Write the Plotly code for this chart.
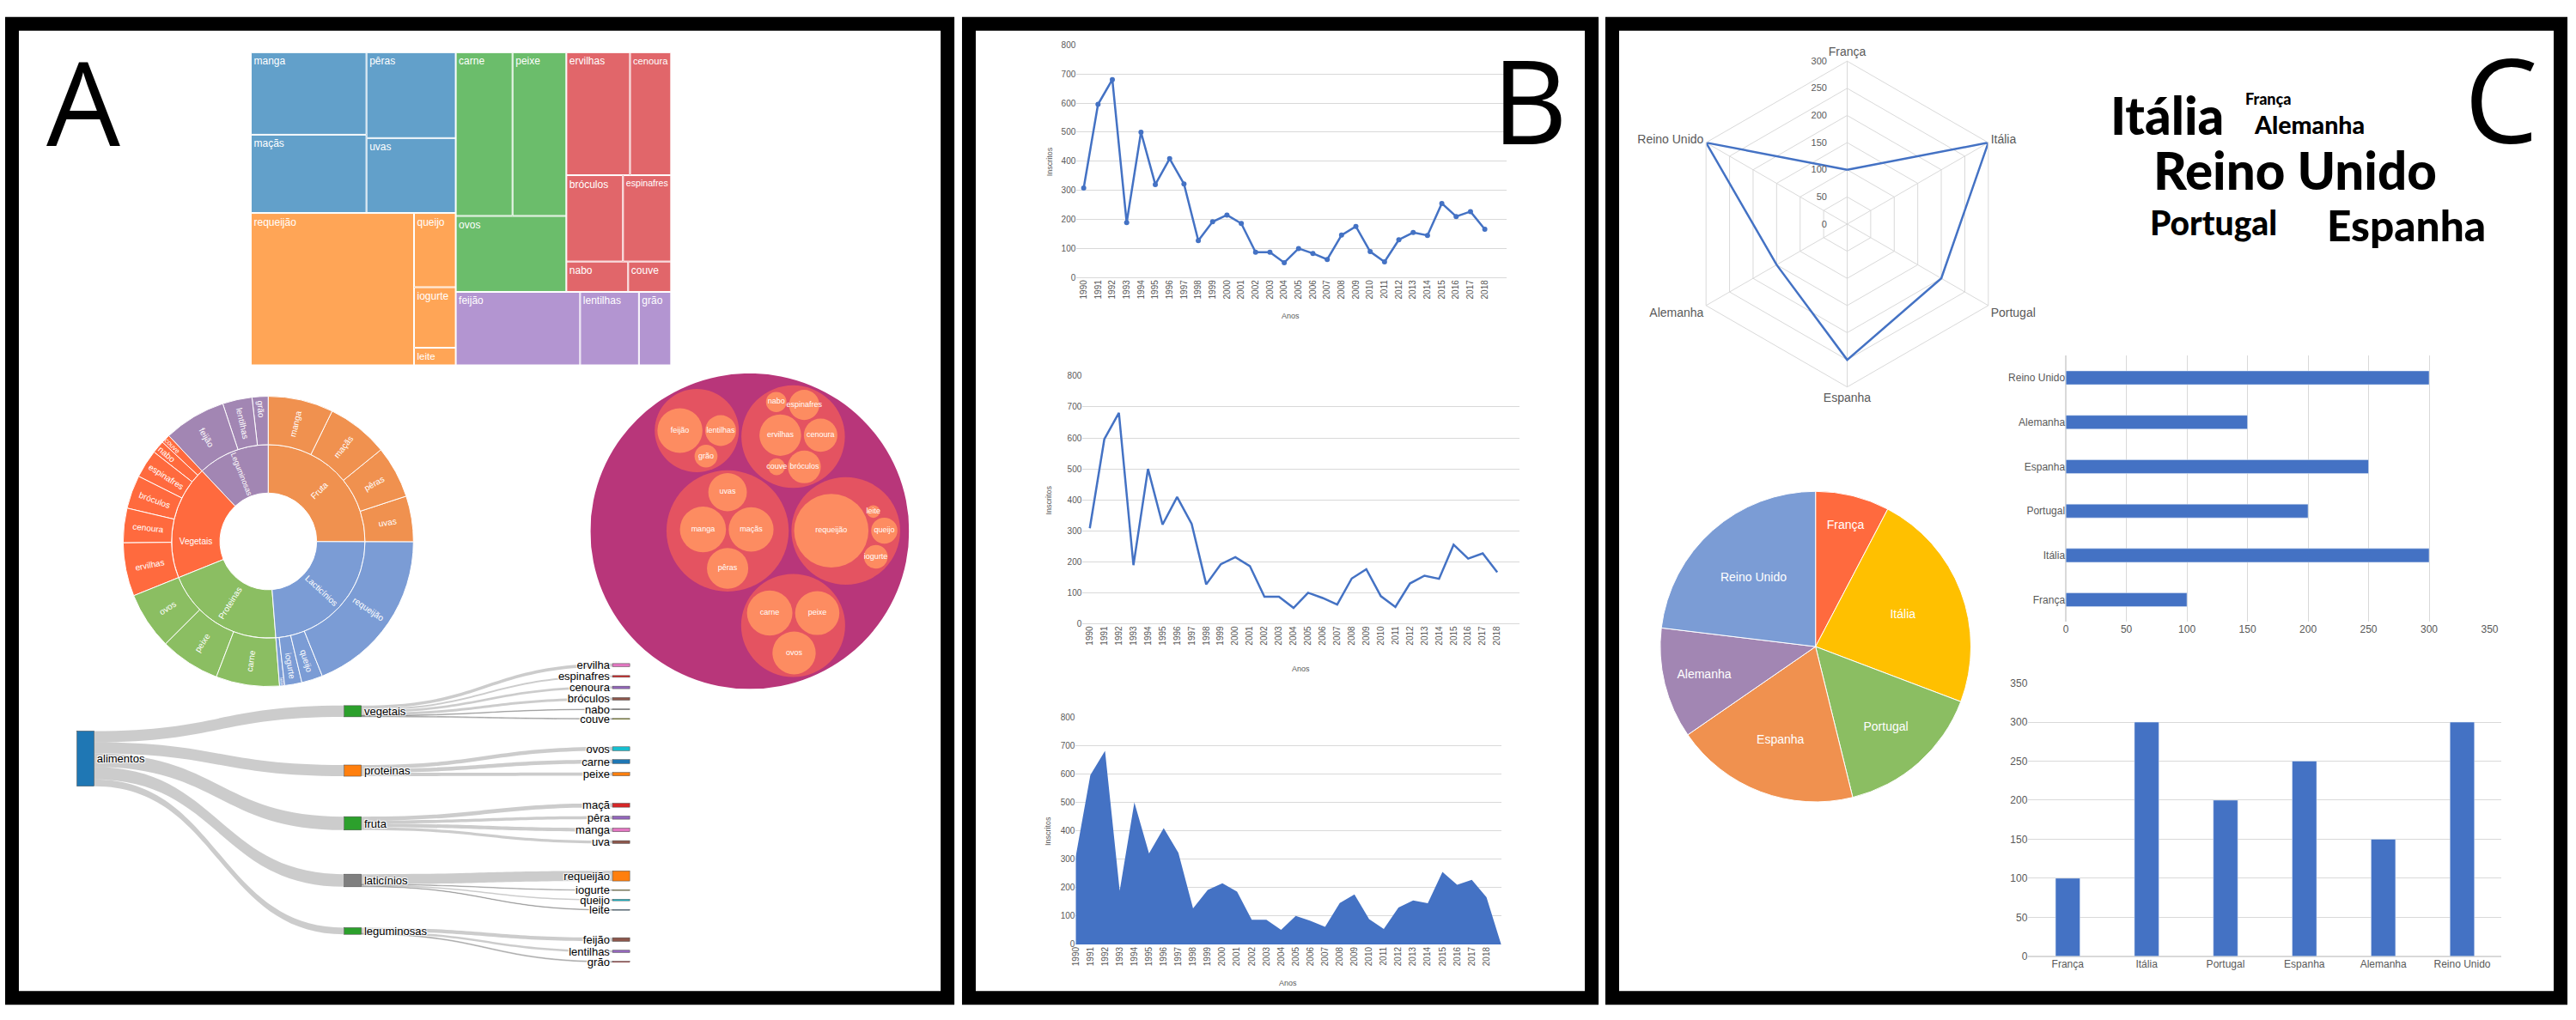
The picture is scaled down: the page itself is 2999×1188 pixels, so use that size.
import math
import plotly.graph_objects as go

W, H = 2999, 1188

# ---------------- dados ----------------
# painel A: alimentos (treemap, sunburst e circle packing)
grupos = ["Fruta", "Lacticínios", "Proteinas", "Vegetais", "Leguminosas"]
fruta = ["manga", "maçãs", "pêras", "uvas"]
fruta_val = [11.7, 11.1, 9.4, 8.2]
lacticinios = ["requeijão", "queijo", "iogurte", "leite"]
lacticinios_val = [30.5, 3.8, 3.1, 0.9]
proteinas = ["carne", "peixe", "ovos"]
proteinas_val = [11.4, 10.8, 10.3]
vegetais = ["ervilhas", "cenoura", "bróculos", "espinafres", "nabo", "couve"]
vegetais_val = [9.6, 6.2, 6.0, 5.1, 2.3, 1.6]
leguminosas = ["feijão", "lentilhas", "grão"]
leguminosas_val = [11.2, 5.3, 2.9]

filhos = [fruta, lacticinios, proteinas, vegetais, leguminosas]
filhos_val = [fruta_val, lacticinios_val, proteinas_val, vegetais_val, leguminosas_val]

# painel A: sankey
sk_raiz = "alimentos"
sk_grupos = ["vegetais", "proteinas", "fruta", "laticínios", "leguminosas"]
sk_vegetais = ["ervilha", "espinafres", "cenoura", "bróculos", "nabo", "couve"]
sk_vegetais_val = [11, 6, 9, 9, 2, 3]
sk_proteinas = ["ovos", "carne", "peixe"]
sk_proteinas_val = [14, 14, 12]
sk_fruta = ["maçã", "pêra", "manga", "uva"]
sk_fruta_val = [14, 11, 13, 10]
sk_laticinios = ["requeijão", "iogurte", "queijo", "leite"]
sk_laticinios_val = [36, 2, 5, 2]
sk_leguminosas = ["feijão", "lentilhas", "grão"]
sk_leguminosas_val = [13, 8, 3]

# painel B: inscritos por ano
anos = list(range(1990, 2019))
inscritos = [308, 596, 681, 189, 500, 320, 409, 322, 127, 192, 215, 186, 87, 87,
             51, 100, 83, 62, 146, 176, 89, 54, 130, 155, 145, 255, 210, 227, 166]
# o grafico de area tem mais uma categoria vazia no fim (cai para zero)
anos_area = anos + [2019]
inscritos_area = inscritos + [0]

# painel C: paises
paises = ["França", "Itália", "Portugal", "Espanha", "Alemanha", "Reino Unido"]
valores = [100, 300, 200, 250, 150, 300]

# ---------------- estilos ----------------
AZUL = "#4472C4"
CINZA = "#595959"
GRID = "#D9D9D9"
FONTE = "Liberation Sans"
TREEMAP_CORES = ["#62A0CA", "#FFA556", "#6BBD6B", "#E1666A", "#B395D1"]
SUNBURST_CORES = ["#F0914F", "#7B9CD5", "#8BBE62", "#FF6A3E", "#A286B3"]
PIE_CORES = ["#FF6A3E", "#FFC000", "#8BBE62", "#F0914F", "#A286B3", "#7B9CD5"]
PACK_CORES = ["#B8367A", "#E45361", "#FD8C61"]
SK_CORES = ["#1f77b4",
            "#2ca02c", "#ff7f0e", "#2ca02c", "#7f7f7f", "#2ca02c",
            "#e377c2", "#d62728", "#9467bd", "#8c564b", "#7f7f7f", "#bcbd22",
            "#17becf", "#1f77b4", "#ff7f0e",
            "#d62728", "#9467bd", "#e377c2", "#8c564b",
            "#ff7f0e", "#bcbd22", "#17becf", "#1f77b4",
            "#8c564b", "#9467bd", "#d62728"]


def px_x(a, b):
    return [a / W, b / W]


def px_y(top, bottom):
    return [1 - bottom / H, 1 - top / H]


fig = go.Figure()

# ---------------- treemap ----------------
tm_labels, tm_parents, tm_values, tm_text, tm_cores = [], [], [], [], []
for g, kids, vals, cor in zip(grupos, filhos, filhos_val, TREEMAP_CORES):
    tm_labels.append(g); tm_parents.append(""); tm_values.append(0)
    tm_text.append(""); tm_cores.append(cor)
    for k, v in zip(kids, vals):
        tm_labels.append(k); tm_parents.append(g); tm_values.append(v)
        tm_text.append(k); tm_cores.append(cor)

fig.add_trace(go.Treemap(
    labels=tm_labels, parents=tm_parents, values=tm_values, text=tm_text,
    textinfo="text", textposition="top left", sort=True,
    marker=dict(colors=tm_cores, line=dict(color="white", width=1),
                pad=dict(t=0, l=0, r=0, b=0)),
    tiling=dict(packing="squarify", squarifyratio=1.618034, pad=1),
    pathbar=dict(visible=False),
    textfont=dict(color="white", size=12, family=FONTE),
    domain=dict(x=px_x(288, 779), y=px_y(55, 423)), hoverinfo="skip"))

# ---------------- sunburst ----------------
# o plotly desenha no sentido anti-horario: passa-se a ordem invertida
sb_ids, sb_labels, sb_parents, sb_values, sb_cores = ["raiz"], [""], [""], [0], ["white"]
for g, kids, vals, cor in list(zip(grupos, filhos, filhos_val, SUNBURST_CORES))[::-1]:
    sb_ids.append(g); sb_labels.append(g); sb_parents.append("raiz")
    sb_values.append(0); sb_cores.append(cor)
    for k, v in list(zip(kids, vals))[::-1]:
        sb_ids.append(g + "/" + k); sb_labels.append(k); sb_parents.append(g)
        sb_values.append(v); sb_cores.append(cor)

fig.add_trace(go.Sunburst(
    ids=sb_ids, labels=sb_labels, parents=sb_parents, values=sb_values, sort=False,
    rotation=90, marker=dict(colors=sb_cores, line=dict(color="white", width=1)),
    leaf=dict(opacity=1), insidetextorientation="radial",
    textfont=dict(color="white", size=10, family=FONTE),
    domain=dict(x=px_x(137, 479), y=px_y(460, 802)), hoverinfo="skip"))


# ---------------- circle packing (d3.packSiblings) ----------------
class No:
    def __init__(self, c):
        self.c = c
        self.next = None
        self.prev = None


def colocar(b, a, c):
    dx, dy = b["x"] - a["x"], b["y"] - a["y"]
    d2 = dx * dx + dy * dy
    if d2:
        a2 = (a["r"] + c["r"]) ** 2
        b2 = (b["r"] + c["r"]) ** 2
        if a2 > b2:
            x = (d2 + b2 - a2) / (2 * d2)
            y = math.sqrt(max(0, b2 / d2 - x * x))
            c["x"] = b["x"] - x * dx - y * dy
            c["y"] = b["y"] - x * dy + y * dx
        else:
            x = (d2 + a2 - b2) / (2 * d2)
            y = math.sqrt(max(0, a2 / d2 - x * x))
            c["x"] = a["x"] + x * dx - y * dy
            c["y"] = a["y"] + x * dy + y * dx
    else:
        c["x"] = a["x"] + c["r"]
        c["y"] = a["y"]


def intersecta(a, b):
    dr = a["r"] + b["r"] - 1e-6
    dx, dy = b["x"] - a["x"], b["y"] - a["y"]
    return dr > 0 and dr * dr > dx * dx + dy * dy


def score(no):
    a, b = no.c, no.next.c
    ab = a["r"] + b["r"]
    dx = (a["x"] * b["r"] + b["x"] * a["r"]) / ab
    dy = (a["y"] * b["r"] + b["y"] * a["r"]) / ab
    return dx * dx + dy * dy


def envolver(cs):
    cx = sum(c["x"] for c in cs) / len(cs)
    cy = sum(c["y"] for c in cs) / len(cs)
    for it in range(1, 20000):
        f = max(cs, key=lambda c: math.hypot(c["x"] - cx, c["y"] - cy) + c["r"])
        dx, dy = f["x"] - cx, f["y"] - cy
        d = math.hypot(dx, dy) or 1e-9
        cx += (f["x"] + dx / d * f["r"] - cx) / (it + 1)
        cy += (f["y"] + dy / d * f["r"] - cy) / (it + 1)
    return cx, cy, max(math.hypot(c["x"] - cx, c["y"] - cy) + c["r"] for c in cs)


def empacotar(cs):
    n = len(cs)
    a = cs[0]; a["x"] = 0.0; a["y"] = 0.0
    if n == 1:
        return a["r"]
    b = cs[1]; a["x"] = -b["r"]; b["x"] = a["r"]; b["y"] = 0.0
    if n == 2:
        return a["r"] + b["r"]
    colocar(b, a, cs[2])
    A, B, C = No(a), No(b), No(cs[2])
    A.next = C.prev = B
    B.next = A.prev = C
    C.next = B.prev = A
    na, nb = A, B
    i = 3
    while i < n:
        c = cs[i]
        colocar(na.c, nb.c, c)
        nc = No(c)
        j, k, sj, sk = nb.next, na.prev, nb.c["r"], na.c["r"]
        recomeca = False
        while True:
            if sj <= sk:
                if intersecta(j.c, nc.c):
                    nb = j; na.next = nb; nb.prev = na
                    recomeca = True
                    break
                sj += j.c["r"]; j = j.next
            else:
                if intersecta(k.c, nc.c):
                    na = k; na.next = nb; nb.prev = na
                    recomeca = True
                    break
                sk += k.c["r"]; k = k.prev
            if j is k.next:
                break
        if recomeca:
            continue
        nc.prev = na; nc.next = nb; na.next = nc; nb.prev = nc; nb = nc
        aa = score(na)
        cc = nc
        while True:
            cc = cc.next
            if cc is nb:
                break
            ca = score(cc)
            if ca < aa:
                na, aa = cc, ca
        nb = na.next
        i += 1
    cx, cy, R = envolver(cs)
    for c in cs:
        c["x"] -= cx; c["y"] -= cy
    return R


PAD = 0.2
grupos_pack = []
for kids, vals in zip(filhos, filhos_val):
    cs = [dict(nome=k, r=math.sqrt(v) + PAD, v=v) for k, v in
          sorted(zip(kids, vals), key=lambda t: -t[1])]
    e = empacotar(cs)
    for c in cs:
        c["r"] -= PAD
    grupos_pack.append(dict(r=e + PAD + PAD, filhos=cs, v=sum(vals)))

gs = sorted(grupos_pack, key=lambda g: -g["v"])
e = empacotar(gs)
for g in gs:
    g["r"] -= PAD
R_ext = e + PAD

shapes = []


def circulo(x, y, r, cor):
    # y do d3 cresce para baixo: inverte-se
    return dict(type="circle", xref="x4", yref="y4", x0=x - r, x1=x + r, y0=-y - r,
                y1=-y + r, fillcolor=cor, line=dict(width=0), layer="below")


shapes.append(circulo(0, 0, R_ext, PACK_CORES[0]))
txt_x, txt_y, txt = [], [], []
for g in gs:
    shapes.append(circulo(g["x"], g["y"], g["r"], PACK_CORES[1]))
    for c in g["filhos"]:
        shapes.append(circulo(g["x"] + c["x"], g["y"] + c["y"], c["r"], PACK_CORES[2]))
        txt_x.append(g["x"] + c["x"]); txt_y.append(-(g["y"] + c["y"])); txt.append(c["nome"])

fig.add_trace(go.Scatter(x=txt_x, y=txt_y, text=txt, mode="text",
                         textfont=dict(color="white", size=9, family=FONTE),
                         xaxis="x4", yaxis="y4", hoverinfo="skip"))

# ---------------- sankey ----------------
sk_filhos = [sk_vegetais, sk_proteinas, sk_fruta, sk_laticinios, sk_leguminosas]
sk_filhos_val = [sk_vegetais_val, sk_proteinas_val, sk_fruta_val, sk_laticinios_val,
                 sk_leguminosas_val]
nos = [sk_raiz] + sk_grupos
src, tgt, val = [], [], []
for gi, vals in enumerate(sk_filhos_val):
    src.append(0); tgt.append(gi + 1); val.append(sum(vals))
for gi, (kids, vals) in enumerate(zip(sk_filhos, sk_filhos_val)):
    for k, v in zip(kids, vals):
        nos.append(k)
        src.append(gi + 1); tgt.append(len(nos) - 1); val.append(v)

# posicoes dos nos: folhas empilhadas por grupo, grupos perto do centro das folhas
SK_TOPO, SK_ALT = 775, 195
SK_SPAN, SK_GAP = 352, 10.5
total = sum(val[:len(sk_grupos)])
ky = SK_ALT / (3 * total)  # escala que o plotly usa com o pad no maximo
n_folhas = sum(len(v) for v in sk_filhos_val)
gap_grupo = (SK_SPAN - total * ky - (n_folhas - len(sk_grupos)) * SK_GAP) / (len(sk_grupos) - 1)
y_folhas, y_grupos = [], []
yy = 0.0
for vals in sk_filhos_val:
    ini = yy
    for v in vals:
        y_folhas.append(yy + v * ky / 2)
        yy += v * ky + SK_GAP
    y_grupos.append((ini + yy - SK_GAP) / 2)
    yy += gap_grupo - SK_GAP
media = sum(y_grupos) / len(y_grupos)
y_grupos = [media + 0.85 * (y - media) for y in y_grupos]
y_raiz = 112
node_x = [0.0155] + [0.499] * len(sk_grupos) + [0.9845] * len(y_folhas)
node_y = [y / SK_ALT for y in [y_raiz] + y_grupos + y_folhas]

fig.add_trace(go.Sankey(
    domain=dict(x=px_x(84, 731), y=px_y(SK_TOPO, SK_TOPO + SK_ALT)), arrangement="fixed",
    node=dict(label=nos, color=SK_CORES, pad=50, thickness=20, x=node_x, y=node_y,
              line=dict(color="#444", width=0.5)),
    link=dict(source=src, target=tgt, value=val, color="rgba(0,0,0,0.2)"),
    textfont=dict(size=13, color="black", family=FONTE), hoverinfo="skip"))

# ---------------- painel B ----------------
fig.add_trace(go.Scatter(x=anos, y=inscritos, mode="lines+markers",
                         line=dict(color=AZUL, width=2.5), marker=dict(size=6, color=AZUL),
                         xaxis="x", yaxis="y", hoverinfo="skip"))
fig.add_trace(go.Scatter(x=anos, y=inscritos, mode="lines",
                         line=dict(color=AZUL, width=2.5),
                         xaxis="x2", yaxis="y2", hoverinfo="skip"))
fig.add_trace(go.Scatter(x=anos_area, y=inscritos_area, mode="none", fill="tozeroy",
                         fillcolor=AZUL, xaxis="x3", yaxis="y3", hoverinfo="skip"))

# ---------------- painel C ----------------
fig.add_trace(go.Scatterpolar(r=valores + valores[:1], theta=paises + paises[:1],
                              mode="lines", line=dict(color=AZUL, width=2.5),
                              hoverinfo="skip"))
fig.add_trace(go.Pie(labels=paises, values=valores, sort=False, direction="clockwise",
                     rotation=0, textinfo="label", textposition="inside",
                     insidetextorientation="horizontal",
                     marker=dict(colors=PIE_CORES, line=dict(color="white", width=1)),
                     textfont=dict(color="white", size=14, family=FONTE),
                     domain=dict(x=px_x(1936, 2302), y=px_y(572, 938)), hoverinfo="skip"))
fig.add_trace(go.Bar(x=valores, y=paises, orientation="h", marker_color=AZUL,
                     xaxis="x5", yaxis="y5", hoverinfo="skip"))
fig.add_trace(go.Bar(x=paises, y=valores, marker_color=AZUL,
                     xaxis="x6", yaxis="y6", hoverinfo="skip"))

tick = dict(size=10, color=CINZA, family=FONTE)
tick_c = dict(size=12, color=CINZA, family=FONTE)


def eixo_anos(dom, rng, anchor):
    return dict(domain=dom, range=rng, anchor=anchor, tickmode="array", tickvals=anos,
                ticktext=[str(a) for a in anos], tickangle=-90, showgrid=False,
                zeroline=False, showline=False, ticks="", tickfont=tick)


def eixo_inscritos(dom, anchor):
    return dict(domain=dom, range=[0, 800], dtick=100, anchor=anchor, showgrid=True,
                gridcolor=GRID, zeroline=True, zerolinecolor=GRID, zerolinewidth=1,
                showline=False, ticks="", tickfont=tick)


escondido = dict(visible=False, showgrid=False, zeroline=False)

fig.update_layout(
    width=W, height=H, margin=dict(l=0, r=0, t=0, b=0),
    paper_bgcolor="white", plot_bgcolor="white", showlegend=False,
    font=dict(family=FONTE), bargap=0.69,
    xaxis=eixo_anos(px_x(1254, 1757), [1989.5, 2019.5], "y"),
    yaxis=eixo_inscritos(px_y(46, 320), "x"),
    xaxis2=eixo_anos(px_x(1261, 1772), [1989.5, 2019.5], "y2"),
    yaxis2=eixo_inscritos(px_y(436, 728), "x2"),
    xaxis3=eixo_anos(px_x(1253, 1751), [1990, 2019], "y3"),
    yaxis3=eixo_inscritos(px_y(838, 1106), "x3"),
    xaxis4=dict(domain=px_x(685, 1058), range=[-R_ext, R_ext], anchor="y4", **escondido),
    yaxis4=dict(domain=px_y(433, 805), range=[-R_ext, R_ext], anchor="x4", **escondido),
    xaxis5=dict(domain=px_x(2412, 2908), range=[0, 350], dtick=50, anchor="y5",
                showgrid=True, gridcolor=GRID, zeroline=True, zerolinecolor=GRID,
                ticks="", tickfont=tick_c),
    yaxis5=dict(domain=px_y(412, 726), anchor="x5", showgrid=False, ticks="",
                tickfont=tick_c),
    xaxis6=dict(domain=px_x(2368, 2922), anchor="y6", showgrid=False, ticks="",
                tickfont=tick_c),
    yaxis6=dict(domain=px_y(798, 1120), range=[0, 350], dtick=50, anchor="x6",
                showgrid=True, gridcolor=GRID, zeroline=True, zerolinecolor=GRID,
                ticks="", tickfont=tick_c),
    polar=dict(domain=dict(x=px_x(1964, 2348), y=px_y(65, 449)), gridshape="linear",
               bgcolor="white",
               angularaxis=dict(rotation=90, direction="clockwise", gridcolor=GRID,
                                linecolor=GRID, ticks="",
                                tickfont=dict(size=14, color=CINZA, family=FONTE)),
               radialaxis=dict(range=[0, 300], dtick=50, angle=90, tickangle=90,
                               side="counterclockwise", gridcolor=GRID, showline=False,
                               ticksuffix="\u00a0" * 7, ticks="",
                               tickfont=dict(size=11, color=CINZA, family=FONTE))),
)

# molduras dos paineis
for x0, x1 in [(8, 1103), (1128, 1857), (1881, 2991)]:
    shapes.append(dict(type="rect", xref="paper", yref="paper", x0=x0 / W, x1=x1 / W,
                       y0=1 - 1169 / H, y1=1 - 21 / H, line=dict(color="black", width=16),
                       fillcolor="rgba(0,0,0,0)", layer="above"))
fig.update_layout(shapes=shapes)

anots = []
for letra, x, y in [("A", 91, 112), ("B", 1785, 110), ("C", 2922, 109)]:
    anots.append(dict(text=letra, x=x / W, y=1 - y / H, xref="paper", yref="paper",
                      showarrow=False, xanchor="center", yanchor="middle",
                      font=dict(family="Open Sans", size=136, color="black")))

# titulos dos eixos do painel B
for txt_, x, y, ang in [("Inscritos", 1222, 183, -90), ("Anos", 1505, 365, 0),
                        ("Inscritos", 1222, 582, -90), ("Anos", 1517, 781, 0),
                        ("Inscritos", 1220, 972, -90), ("Anos", 1502, 1152, 0)]:
    anots.append(dict(text=txt_, x=x / W, y=1 - y / H, xref="paper", yref="paper",
                      showarrow=False, textangle=ang, xanchor="center", yanchor="middle",
                      font=dict(family=FONTE, size=9, color=CINZA)))

# nuvem de palavras: tamanho da letra proporcional ao valor
nuvem_pos = {"Itália": (2530, 152), "França": (2649, 116), "Alemanha": (2697, 151),
             "Reino Unido": (2680, 217), "Portugal": (2585, 270), "Espanha": (2810, 277)}
for p, v in zip(paises, valores):
    tam = 0.21 * v - 3
    x, base = nuvem_pos[p]
    anots.append(dict(text=p, x=x / W, y=1 - (base - 0.387 * tam) / H, xref="paper",
                      yref="paper", showarrow=False, xanchor="center", yanchor="middle",
                      font=dict(family="Lato", size=tam, color="black", weight=900)))

fig.update_layout(annotations=anots)

fig.write_html("out.html", config={"displayModeBar": False},
               post_script="document.body.style.margin='0';")
